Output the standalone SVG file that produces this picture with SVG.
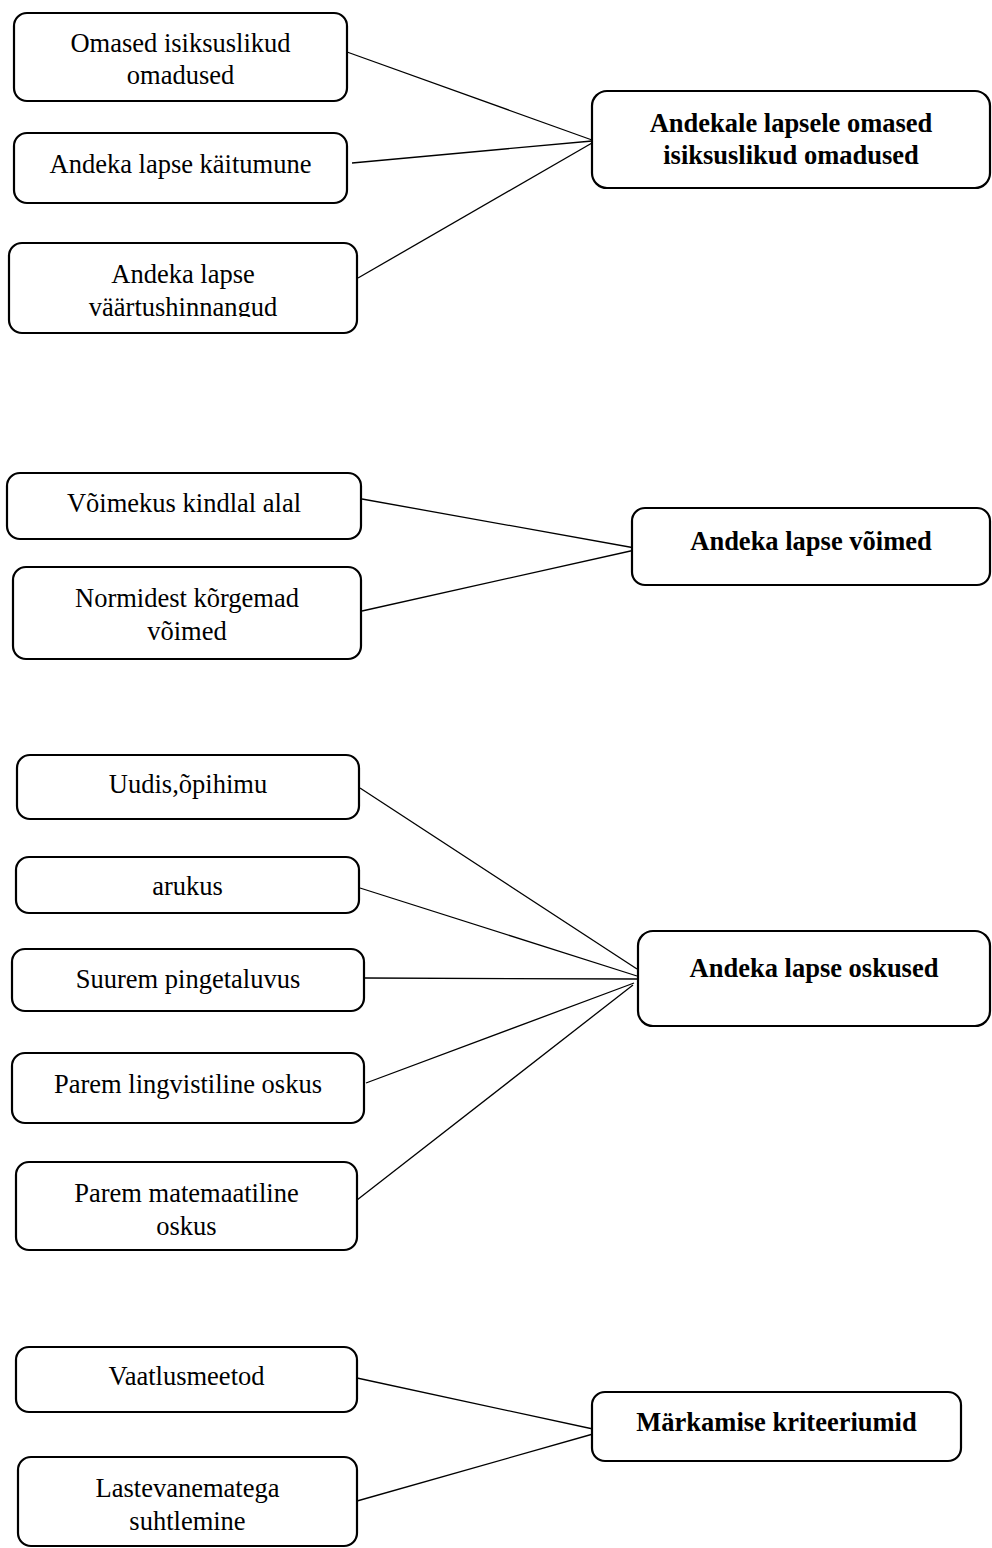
<svg xmlns="http://www.w3.org/2000/svg" width="992" height="1548" viewBox="0 0 992 1548">
<style>
.box{fill:#fff;stroke:#000;stroke-width:2.2}
.t{font-family:"Liberation Serif","Times New Roman",serif;font-size:26.5px;fill:#000;text-anchor:middle}
.b{font-weight:bold}
.c{stroke:#000;stroke-width:1.3;fill:none}
</style>
<defs>
<clipPath id="clip3"><rect x="0" y="240" width="400" height="77"/></clipPath>
</defs>
<rect width="992" height="1548" fill="#fff"/>
<g id="connectors">
<line class="c" x1="347" y1="52" x2="592" y2="140"/>
<line class="c" x1="352" y1="163" x2="592" y2="141"/>
<line class="c" x1="358" y1="278" x2="592" y2="143"/>
<line class="c" x1="362" y1="499" x2="635" y2="548"/>
<line class="c" x1="362" y1="611" x2="635" y2="550"/>
<line class="c" x1="360" y1="788" x2="637" y2="969"/>
<line class="c" x1="360" y1="888" x2="637" y2="976"/>
<line class="c" x1="365" y1="978" x2="637" y2="979"/>
<line class="c" x1="366" y1="1083" x2="634" y2="983"/>
<line class="c" x1="357" y1="1200" x2="633" y2="985"/>
<line class="c" x1="357" y1="1378" x2="593" y2="1429"/>
<line class="c" x1="357" y1="1501" x2="593" y2="1434"/>
</g>
<g id="n1"><rect class="box" x="14" y="13" width="333" height="88" rx="13"/><text class="t" x="180.5" y="52">Omased isiksuslikud</text><text class="t" x="180.5" y="84">omadused</text></g>
<g id="n2"><rect class="box" x="14" y="133" width="333" height="70" rx="13"/><text class="t" x="180.5" y="173">Andeka lapse käitumune</text></g>
<g id="n3"><rect class="box" x="9" y="243" width="348" height="90" rx="13"/><g clip-path="url(#clip3)"><text class="t" x="183" y="283">Andeka lapse</text><text class="t" x="183" y="316">väärtushinnangud</text></g></g>
<g id="n4"><rect class="box" x="592" y="91" width="398" height="97" rx="15"/><text class="t b" x="791" y="132">Andekale lapsele omased</text><text class="t b" x="791" y="164">isiksuslikud omadused</text></g>
<g id="n5"><rect class="box" x="7" y="473" width="354" height="66" rx="13"/><text class="t" x="184" y="512">Võimekus kindlal alal</text></g>
<g id="n6"><rect class="box" x="13" y="567" width="348" height="92" rx="13"/><text class="t" x="187" y="607">Normidest kõrgemad</text><text class="t" x="187" y="640">võimed</text></g>
<g id="n7"><rect class="box" x="632" y="508" width="358" height="77" rx="13"/><text class="t b" x="811" y="550">Andeka lapse võimed</text></g>
<g id="n8"><rect class="box" x="17" y="755" width="342" height="64" rx="13"/><text class="t" x="188" y="793">Uudis,õpihimu</text></g>
<g id="n9"><rect class="box" x="16" y="857" width="343" height="56" rx="13"/><text class="t" x="187.5" y="895">arukus</text></g>
<g id="n10"><rect class="box" x="12" y="949" width="352" height="62" rx="13"/><text class="t" x="188" y="988">Suurem pingetaluvus</text></g>
<g id="n11"><rect class="box" x="12" y="1053" width="352" height="70" rx="13"/><text class="t" x="188" y="1093">Parem lingvistiline oskus</text></g>
<g id="n12"><rect class="box" x="16" y="1162" width="341" height="88" rx="13"/><text class="t" x="186.5" y="1202">Parem matemaatiline</text><text class="t" x="186.5" y="1235">oskus</text></g>
<g id="n13"><rect class="box" x="638" y="931" width="352" height="95" rx="15"/><text class="t b" x="814" y="977">Andeka lapse oskused</text></g>
<g id="n14"><rect class="box" x="16" y="1347" width="341" height="65" rx="13"/><text class="t" x="186.5" y="1385">Vaatlusmeetod</text></g>
<g id="n15"><rect class="box" x="18" y="1457" width="339" height="89" rx="13"/><text class="t" x="187.5" y="1497">Lastevanematega</text><text class="t" x="187.5" y="1530">suhtlemine</text></g>
<g id="n16"><rect class="box" x="592" y="1392" width="369" height="69" rx="13"/><text class="t b" x="776.5" y="1431">Märkamise kriteeriumid</text></g>
</svg>
